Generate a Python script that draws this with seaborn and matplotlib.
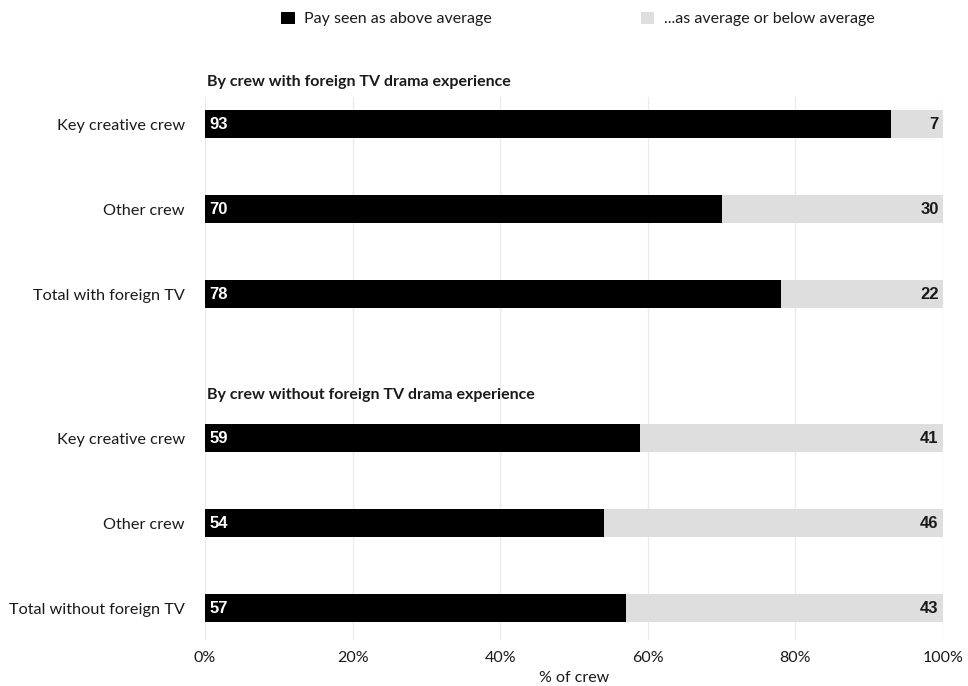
import matplotlib
matplotlib.use("Agg")
import matplotlib.pyplot as plt
from matplotlib.patches import Patch
import seaborn as sns
import pandas as pd

# Survey results: share of crew rating their pay
groups = ["By crew with foreign TV drama experience",
          "By crew without foreign TV drama experience"]
rows_with = ["Key creative crew", "Other crew", "Total with foreign TV"]
rows_without = ["Key creative crew", "Other crew", "Total without foreign TV"]
above_with = [93, 70, 78]
below_with = [7, 30, 22]
above_without = [59, 54, 57]
below_without = [41, 46, 43]
series_names = ["Pay seen as above average", "...as average or below average"]
x_ticks = [0, 20, 40, 60, 80, 100]

BLACK = "#000000"
GREY = "#dedede"
TEXT = "#1a1a1a"

sns.set_theme(style="white")
plt.rcParams["font.family"] = ["Lato", "DejaVu Sans"]

# vertical layout: rows one unit apart, an extra gap before the second group
group_gap = 0.694
pos = [0, 1, 2, 3 + group_gap, 4 + group_gap, 5 + group_gap]
header_pos = [-0.494, 3.188]

df = pd.DataFrame({
    "label": rows_with + rows_without,
    "above": above_with + above_without,
    "below": below_with + below_without,
    "pos": pos,
})
df["total"] = df["above"] + df["below"]

fig = plt.figure(figsize=(9.68, 6.86), dpi=100)
ax = fig.add_axes([205 / 968, 1 - 640 / 686, 738 / 968, (640 - 97) / 686])

sns.barplot(data=df, x="total", y="pos", orient="h", native_scale=True,
            color=GREY, width=0.34, saturation=1, linewidth=0, ax=ax, zorder=2)
sns.barplot(data=df, x="above", y="pos", orient="h", native_scale=True,
            color=BLACK, width=0.34, saturation=1, linewidth=0, ax=ax, zorder=3)

ax.set_xlim(0, 100)
ax.set_ylim(6.07, -0.318)
ax.set_xticks(x_ticks)
ax.set_xticklabels([f"{t}%" for t in x_ticks], fontsize=11.5, color=TEXT)
ax.set_yticks(df["pos"])
ax.set_yticklabels(df["label"], fontsize=11.7, color=TEXT)
ax.tick_params(axis="y", length=0, pad=14.5)
ax.tick_params(axis="x", length=0, pad=8)
ax.set_xlabel("% of crew", fontsize=11.5, color=TEXT, labelpad=4)
ax.set_ylabel("")
for s in ax.spines.values():
    s.set_visible(False)
ax.grid(axis="x", color="#ebebeb", linewidth=1, zorder=0)
ax.grid(axis="y", visible=False)
ax.set_axisbelow(True)

# value labels inside the bars
for _, r in df.iterrows():
    ax.text(0.6, r["pos"], f"{r['above']}", ha="left", va="center",
            color="white", fontsize=12, fontweight="bold",
            family="Liberation Sans", zorder=4)
    ax.text(r["total"] - 0.6, r["pos"], f"{r['below']}", ha="right", va="center",
            color=TEXT, fontsize=12, fontweight="bold",
            family="Liberation Sans", zorder=4)

# group headers
for g, hp in zip(groups, header_pos):
    ax.text(0.3, hp, g, ha="left", va="center", fontsize=11.5,
            fontweight="bold", color=TEXT, clip_on=False, zorder=4)

handles = [Patch(facecolor=BLACK, edgecolor="none"),
           Patch(facecolor=GREY, edgecolor="none")]
fig.legend(handles, series_names, loc="center", bbox_to_anchor=(0.597, 1 - 19 / 686),
           ncol=2, frameon=False, fontsize=11.5, handlelength=0.85,
           handleheight=0.85, handletextpad=0.6, columnspacing=9.3,
           labelcolor=TEXT)

fig.savefig("out.png", dpi=100, facecolor="white")
